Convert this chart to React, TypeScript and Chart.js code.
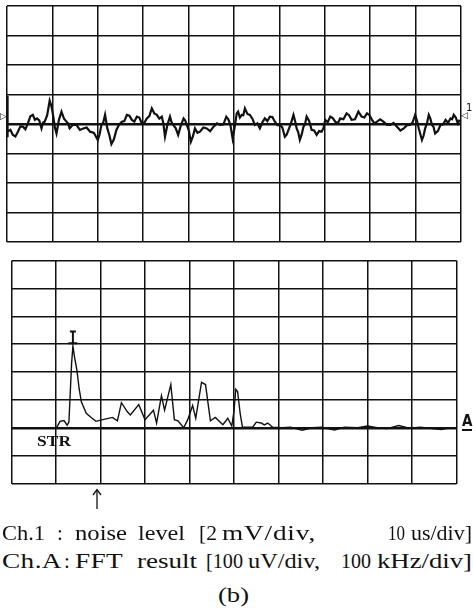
import React, { useEffect, useLayoutEffect, useRef } from "react";
import { Chart, registerables } from "chart.js";
Chart.register(...registerables);

// ---- data (x in horizontal divisions, y in vertical divisions) ----
// Ch.1 noise trace, [x, y] pairs
const noiseTrace: [number, number][] = [
  [0.00,0.95],[0.005,-0.45],[0.02,-0.26],[0.075,-0.20],[0.13,-0.37],[0.185,-0.42],[0.24,-0.26],[0.295,-0.08],[0.35,-0.09],[0.405,-0.18],
  [0.46,0.02],[0.515,0.26],[0.57,0.31],[0.615,0.14],[0.66,0.19],[0.71,0.12],[0.76,-0.15],[0.795,0.05],[0.83,0.08],[0.885,0.30],
  [0.94,0.79],[0.98,0.60],[1.02,0.25],[1.055,-0.12],[1.09,-0.32],[1.145,0.15],[1.20,0.42],[1.255,0.18],[1.31,0.08],[1.345,0.02],
  [1.38,-0.15],[1.455,-0.02],[1.53,-0.03],[1.605,-0.20],[1.68,-0.15],[1.755,-0.12],[1.83,-0.26],[1.915,-0.30],[2.00,-0.54],[2.04,-0.35],
  [2.08,-0.03],[2.12,0.05],[2.16,0.31],[2.21,-0.15],[2.255,-0.38],[2.30,-0.68],[2.355,-0.52],[2.41,-0.2],[2.47,-0.02],[2.53,0.08],
  [2.585,0.10],[2.64,0.31],[2.695,0.28],[2.75,0.14],[2.805,0.08],[2.86,0.25],[2.915,0.22],[2.97,0.02],[3.025,0.04],[3.08,0.19],
  [3.135,0.27],[3.19,0.53],[3.245,0.36],[3.30,0.31],[3.355,0.18],[3.41,0.25],[3.445,0.02],[3.48,-0.43],[3.535,-0.02],[3.59,0.25],
  [3.625,0.06],[3.66,-0.03],[3.715,-0.14],[3.77,-0.37],[3.83,-0.05],[3.89,0.19],[3.925,0.12],[3.96,-0.03],[4.005,-0.22],[4.05,-0.6],
  [4.095,-0.42],[4.14,-0.15],[4.195,-0.30],[4.25,-0.26],[4.325,-0.12],[4.40,-0.15],[4.475,-0.24],[4.55,-0.09],[4.625,0.02],[4.70,-0.03],
  [4.765,-0.02],[4.83,0.25],[4.875,0.16],[4.92,-0.03],[4.97,-0.49],[5.015,-0.10],[5.06,0.36],[5.09,0.42],[5.13,0.22],[5.17,0.31],
  [5.205,0.30],[5.24,0.53],[5.295,0.34],[5.35,0.31],[5.405,0.18],[5.46,-0.03],[5.515,0.02],[5.57,-0.15],[5.625,0.06],[5.68,0.19],
  [5.735,0.10],[5.79,0.25],[5.845,0.24],[5.90,0.08],[5.955,-0.04],[6.01,-0.03],[6.065,-0.12],[6.12,-0.43],[6.16,-0.36],[6.20,-0.2],
  [6.255,0.02],[6.31,0.31],[6.345,0.10],[6.38,-0.15],[6.415,-0.28],[6.45,-0.54],[6.49,-0.36],[6.53,-0.09],[6.565,0.00],[6.60,0.25],
  [6.655,0.10],[6.71,-0.2],[6.765,-0.22],[6.82,-0.37],[6.875,-0.24],[6.93,-0.26],[6.97,-0.14],[7.01,0.14],[7.065,0.06],[7.12,0.25],
  [7.175,0.20],[7.23,0.08],[7.285,0.02],[7.34,0.19],[7.41,0.16],[7.48,0.36],[7.535,0.30],[7.59,0.14],[7.665,0.16],[7.74,0.42],
  [7.81,0.25],[7.87,0.22],[7.93,0.36],[7.985,0.30],[8.04,0.14],[8.095,0.02],[8.15,0.08],[8.22,0.16],[8.29,0.08],[8.365,-0.02],
  [8.44,-0.03],[8.515,0.04],[8.59,-0.09],[8.665,-0.22],[8.74,-0.15],[8.81,-0.04],[8.88,-0.03],[8.935,0.06],[8.99,0.31],[9.03,0.12],
  [9.07,-0.15],[9.14,-0.54],[9.175,-0.40],[9.21,-0.15],[9.25,0.02],[9.29,0.31],[9.325,0.18],[9.36,-0.03],[9.395,-0.10],[9.43,-0.32],
  [9.49,-0.24],[9.55,-0.03],[9.605,-0.02],[9.66,0.14],[9.715,0.04],[9.77,0.19],[9.805,0.16],[9.84,0.31],[9.885,0.22],[9.93,0.02],
  [9.97,0.14],
];

// Ch.A FFT trace (lower screen)
const fftX = [1.02,1.09,1.18,1.25,1.29,1.35,1.38,1.42,1.47,1.52,1.57,1.68,1.79,1.90,2.05,2.27,2.38,2.47,2.60,2.67,2.86,3.00,3.19,3.26,3.37,3.44,3.58,3.66,3.74,3.87,3.96,4.07,4.14,4.27,4.36,4.47,4.58,4.75,4.86,4.95,5.00,5.04,5.08,5.14,5.19,5.28,5.42,5.50,5.61,5.68,5.76,5.87,6.09,6.27,6.53,6.75,6.97,7.26,7.48,7.78,8.00,8.22,8.44,8.70,8.96,9.18,9.40,9.66,9.84,9.97];
const fftY = [2.02,2.23,2.26,2.09,2.2,4.3,4.93,4.5,4.07,3.4,2.93,2.52,2.37,2.23,2.29,2.37,2.25,2.90,2.58,2.46,2.83,2.29,2.63,2.17,3.15,2.63,3.55,2.29,2.25,2.0,2.29,2.80,2.34,3.63,3.55,2.25,2.37,2.11,2.34,2.06,2.6,3.38,3.3,2.5,2.02,2.02,2.02,2.2,2.17,2.1,2.17,2.02,2.0,2.02,1.91,2.0,2.02,1.92,2.02,2.0,2.06,2.0,1.97,2.08,1.98,2.02,1.98,1.94,2.0,2.0];

const peakMarkX = [1.38, 1.38];
const peakMarkY = [5.45, 5.03];

const topRange = [-4, 4];
const bottomRange = [0, 8];
const xRange = [0, 10];

const line1Words = ["Ch.1", ":", "noise", "level", "[2", "mV/div,", "10", "us/div]"];
const line2Words = ["Ch.A", ":", "FFT", "result", "[100", "uV/div,", "100", "kHz/div]"];
const subLabel = "(b)";

// caption word boxes: [left, right] in px (right 0 = natural width)
const line1Pos = [[2,45],[57,0],[75,127],[138,185],[199,217],[222,316],[388,405],[411,472]];
const line2Pos = [[2,62],[64,0],[75,123],[137,197],[206,243],[248,320],[341,371],[377,472]];

const INK = "#111";

function scale(min: number, max: number, thickAt: number | null) {
  return {
    type: "linear" as const,
    min,
    max,
    display: true,
    ticks: { display: false, stepSize: 1 },
    grid: {
      color: INK,
      drawTicks: false,
      lineWidth: (c: any) => (thickAt !== null && c.tick && c.tick.value === thickAt ? 2.4 : 1.5),
    },
    border: { display: false },
  };
}

function ScopeChart({ datasets, yMin, yMax, thickY, w, h }: any) {
  const ref = useRef<HTMLCanvasElement>(null);
  useEffect(() => {
    if (!ref.current) return;
    const chart = new Chart(ref.current, {
      type: "scatter",
      data: { datasets },
      options: {
        animation: false,
        responsive: false,
        maintainAspectRatio: false,
        layout: { padding: 2 },
        plugins: { legend: { display: false }, tooltip: { enabled: false } },
        scales: {
          x: scale(xRange[0], xRange[1], null),
          y: scale(yMin, yMax, thickY),
        },
      },
    } as any);
    return () => chart.destroy();
  }, []);
  return <canvas ref={ref} width={w} height={h} style={{ width: w, height: h, display: "block" }} />;
}

function FitText({ x, right, baseline, size, text, bold, family }: any) {
  const ref = useRef<HTMLSpanElement>(null);
  useLayoutEffect(() => {
    const el = ref.current;
    if (!el || !right) return;
    el.style.transform = "none";
    el.style.letterSpacing = "0px";
    const nat = el.getBoundingClientRect().width;
    if (nat <= 0) return;
    const want = right - x;
    const s = Math.min(Math.max(want / nat, 0.8), 1.3);
    const n = text.length;
    const extra = want / s - nat;
    if (n > 1 && extra > 0) el.style.letterSpacing = `${extra / n}px`;
    el.style.transform = `scaleX(${s})`;
  }, [x, right, text]);
  const fam = family || '"Liberation Serif", "Times New Roman", serif';
  return (
    <span
      ref={ref}
      style={{
        position: "absolute",
        left: x,
        top: baseline - 0.8375 * size,
        fontSize: size,
        lineHeight: 1,
        fontFamily: fam,
        fontWeight: bold ? "bold" : "normal",
        whiteSpace: "nowrap",
        transformOrigin: "0 0",
        color: INK,
      }}
    >
      {text}
    </span>
  );
}

export default function App() {
  const topSets = [
    {
      data: noiseTrace.map(([x, y]) => ({ x, y })),
      showLine: true,
      borderColor: INK,
      borderWidth: 2.2,
      pointRadius: 0,
      tension: 0,
    },
  ];
  const bottomSets = [
    {
      data: fftX.map((x, i) => ({ x, y: fftY[i] })),
      showLine: true,
      borderColor: INK,
      borderWidth: 1.4,
      pointRadius: 0,
      tension: 0,
    },
    {
      data: peakMarkX.map((x, i) => ({ x, y: peakMarkY[i] })),
      showLine: true,
      borderColor: INK,
      borderWidth: 2,
      pointStyle: "line",
      pointRadius: [3, 4.5],
      pointBorderWidth: 2,
      pointBorderColor: INK,
    },
  ];
  return (
    <div style={{ position: "absolute", left: 0, top: 0, width: 473, height: 610, background: "#fff", overflow: "hidden" }}>
      <div style={{ position: "absolute", left: 5, top: 4 }}>
        <ScopeChart datasets={topSets} yMin={topRange[0]} yMax={topRange[1]} thickY={0} w={458} h={240} />
      </div>
      <div style={{ position: "absolute", left: 5, top: 254 }}>
        <ScopeChart datasets={bottomSets} yMin={bottomRange[0]} yMax={bottomRange[1]} thickY={2} w={458} h={236} />
      </div>

      {/* channel markers */}
      <span style={{ position: "absolute", left: 0, top: 112, fontSize: 9, lineHeight: 1, fontFamily: "DejaVu Sans", color: INK }}>▷</span>
      <span style={{ position: "absolute", left: 461, top: 111, fontSize: 9, lineHeight: 1, fontFamily: "DejaVu Sans", color: INK }}>◁</span>
      <span style={{ position: "absolute", left: 466, top: 103, fontSize: 10, lineHeight: 1, fontFamily: "DejaVu Sans", color: INK }}>1</span>
      <span style={{ position: "absolute", left: 462, top: 414, fontSize: 15, lineHeight: 1, fontWeight: "bold", fontFamily: "DejaVu Sans Condensed, DejaVu Sans", color: INK, borderBottom: "2px solid #111" }}>A</span>
      <FitText x={37} right={71} baseline={447} size={14} text="STR" bold />

      {/* trigger arrow */}
      <svg style={{ position: "absolute", left: 90, top: 488, width: 14, height: 22 }} viewBox="0 0 14 22">
        <line x1="7" y1="2" x2="7" y2="21" stroke={INK} strokeWidth="1.3" />
        <polyline points="3,7 7,1.5 11,7" fill="none" stroke={INK} strokeWidth="1.3" />
      </svg>

      {line1Words.map((w, i) => (
        <FitText key={"a" + i} x={line1Pos[i][0]} right={line1Pos[i][1]} baseline={541} size={21} text={w} />
      ))}
      {line2Words.map((w, i) => (
        <FitText key={"b" + i} x={line2Pos[i][0]} right={line2Pos[i][1]} baseline={569} size={21} text={w} />
      ))}
      <FitText x={218} right={249} baseline={603} size={21} text={subLabel} />
    </div>
  );
}
